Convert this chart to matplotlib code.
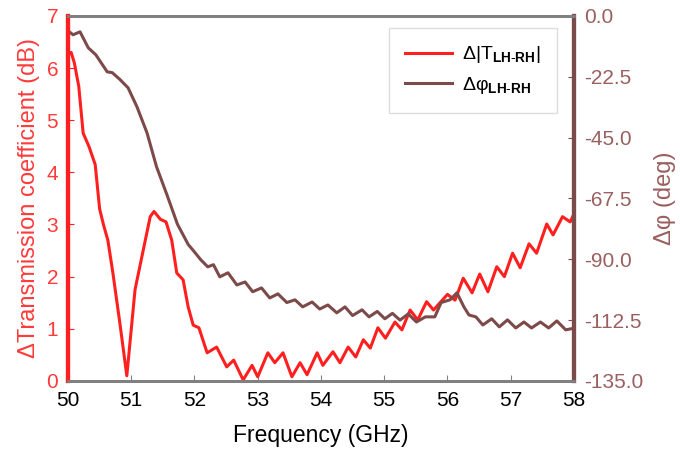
import numpy as np
import matplotlib
matplotlib.use("Agg")
import matplotlib.pyplot as plt

plt.rcParams['font.family'] = ['Liberation Sans', 'DejaVu Sans']
plt.rcParams['mathtext.fontset'] = 'custom'
plt.rcParams['mathtext.rm'] = 'Liberation Sans'
plt.rcParams['mathtext.it'] = 'Liberation Sans'
plt.rcParams['mathtext.bf'] = 'Liberation Sans:bold'

freq_t = [50.00, 50.05, 50.10, 50.17, 50.24, 50.33, 50.43, 50.50, 50.56, 50.63,
          50.71, 50.82, 50.93, 51.06, 51.19, 51.30, 51.36, 51.46, 51.55, 51.64,
          51.72, 51.82, 51.90, 51.98, 52.07, 52.20, 52.35, 52.51, 52.62, 52.77,
          52.91, 53.00, 53.16, 53.27, 53.40, 53.54, 53.67, 53.78, 53.94, 54.03,
          54.19, 54.30, 54.43, 54.55, 54.67, 54.78, 54.90, 55.02, 55.17, 55.28,
          55.41, 55.53, 55.67, 55.78, 56.00, 56.12, 56.25, 56.39, 56.51, 56.64,
          56.78, 56.90, 57.03, 57.15, 57.29, 57.41, 57.57, 57.67, 57.82, 57.94,
          58.00]
trans = [6.25, 6.30, 6.10, 5.65, 4.75, 4.50, 4.15, 3.30, 3.00, 2.70,
         2.07, 1.11, 0.10, 1.75, 2.51, 3.15, 3.25, 3.10, 3.05, 2.70,
         2.07, 1.94, 1.42, 1.07, 1.02, 0.54, 0.65, 0.27, 0.40, 0.02,
         0.30, 0.08, 0.54, 0.35, 0.54, 0.08, 0.35, 0.12, 0.54, 0.30,
         0.56, 0.35, 0.65, 0.46, 0.79, 0.63, 1.02, 0.82, 1.13, 0.98,
         1.36, 1.17, 1.52, 1.36, 1.66, 1.55, 1.97, 1.69, 2.05, 1.71,
         2.19, 2.00, 2.45, 2.17, 2.63, 2.45, 3.01, 2.80, 3.15, 3.05,
         3.20]

# phase difference (deg)
freq_p = [50.00, 50.08, 50.19, 50.32, 50.44, 50.62, 50.70, 50.82, 50.95, 51.09,
          51.25, 51.40, 51.57, 51.73, 51.90, 52.00, 52.10, 52.21, 52.30, 52.40,
          52.53, 52.67, 52.80, 52.92, 53.06, 53.19, 53.32, 53.46, 53.59, 53.71,
          53.86, 53.98, 54.11, 54.25, 54.38, 54.50, 54.65, 54.76, 54.89, 55.01,
          55.13, 55.25, 55.38, 55.51, 55.65, 55.80, 55.90, 56.04, 56.15, 56.26,
          56.34, 56.45, 56.56, 56.70, 56.82, 56.95, 57.08, 57.21, 57.33, 57.47,
          57.60, 57.73, 57.87, 58.00]
phase = [-5.5, -7.0, -5.9, -11.8, -14.4, -20.7, -21.0, -23.5, -26.6, -33.6,
         -43.3, -55.8, -66.5, -77.0, -84.5, -87.3, -90.2, -92.8, -92.0, -96.5,
         -95.0, -99.5, -98.4, -102.0, -100.6, -104.3, -102.8, -106.0, -105.0, -107.6,
         -105.8, -108.4, -106.9, -109.8, -107.6, -110.8, -108.7, -111.3, -109.3, -112.0,
         -110.0, -112.5, -110.2, -113.2, -111.3, -111.3, -106.0, -105.0, -102.4, -107.6,
         -110.6, -111.3, -114.3, -112.0, -115.0, -112.4, -115.4, -113.2, -115.4, -113.2,
         -115.4, -112.8, -116.1, -115.5]

xticks = [50, 51, 52, 53, 54, 55, 56, 57, 58]
left_ticks = [0, 1, 2, 3, 4, 5, 6, 7]
right_ticks = [0.0, -22.5, -45.0, -67.5, -90.0, -112.5, -135.0]

red = '#ff1f1f'
brown = '#7d4a4a'
brown_txt = '#9a5f5f'
red_txt = '#ff3b3b'
gray = '#808080'

fig = plt.figure(figsize=(6.8, 4.53), dpi=100)
ax = fig.add_axes([0.1, 0.159, 0.744, 0.806])
ax2 = ax.twinx()

l1, = ax.plot(freq_t, trans, color=red, lw=2.2, solid_joinstyle='round')
l2, = ax2.plot(freq_p, phase, color=brown, lw=2.2, solid_joinstyle='round')

ax.set_xlim(50, 58)
ax.set_ylim(0, 7)
ax2.set_ylim(-135, 0)
ax.set_xticks(xticks)
ax.set_yticks(left_ticks)
ax2.set_yticks(right_ticks)
ax2.set_yticklabels(['%.1f' % v for v in right_ticks])

ax.tick_params(axis='x', direction='in', length=4, color=gray, labelsize=15,
               labelcolor='black', pad=7)
ax.tick_params(axis='y', direction='in', length=4, color=red, labelsize=15,
               labelcolor=red_txt, pad=7)
ax2.tick_params(axis='y', direction='in', length=4, color=brown, labelsize=15,
                labelcolor=brown_txt, pad=7)

for a in (ax, ax2):
    a.spines['top'].set_color(gray)
    a.spines['top'].set_linewidth(2)
    a.spines['bottom'].set_color(gray)
    a.spines['bottom'].set_linewidth(2)
    a.spines['left'].set_color(red)
    a.spines['left'].set_linewidth(3)
    a.spines['right'].set_color(brown)
    a.spines['right'].set_linewidth(3)

ax.set_xlabel('Frequency (GHz)', fontsize=16.5, labelpad=10)
ax.set_ylabel('ΔTransmission coefficient (dB)', fontsize=17, color=red_txt, labelpad=5)
ax2.set_ylabel('Δφ (deg)', fontsize=17, color=brown_txt, labelpad=8)

leg = ax.legend([l1, l2],
                [r'$\Delta|\mathrm{T}_{\mathbf{LH\text{-}RH}}|$',
                 r'$\Delta\varphi_{\mathbf{LH\text{-}RH}}$'],
                loc='upper right', bbox_to_anchor=(0.966, 0.967), fontsize=14,
                fancybox=False, framealpha=1, edgecolor='#dddddd',
                handlelength=2.4, handletextpad=0.5, borderpad=0.85,
                labelspacing=0.5, borderaxespad=0)

fig.savefig('out.png', dpi=100)
